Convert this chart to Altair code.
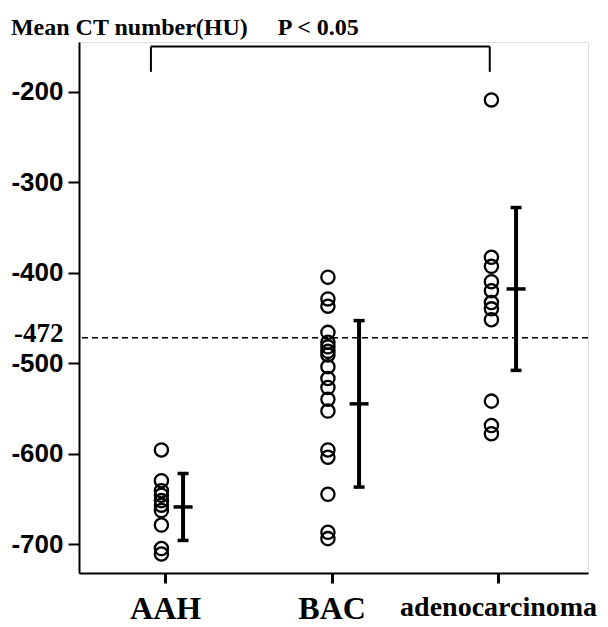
import altair as alt
import pandas as pd

# ---- data ----
groups = ["AAH", "BAC", "adenocarcinoma"]
aah_values = [-596, -630, -641, -646, -652, -657, -663, -679, -705, -711]
bac_values = [-405, -429, -437, -466, -477, -482, -487, -491, -504, -517,
              -527, -540, -553, -596, -604, -645, -687, -694]
adeno_values = [-209, -383, -393, -410, -420, -433, -440, -452, -542, -569, -578]
group_means = [-659, -545, -418]
group_sds = [37, 92, 90]
cutoff_value = -472
y_tick_values = [-700, -600, -500, -472, -400, -300, -200]
title_text = "Mean CT number(HU)"
p_text = "P < 0.05"
bracket_from = 1      # group index where the bracket starts (AAH)
bracket_to = 3        # group index where the bracket ends (adenocarcinoma)
bracket_top = -150
bracket_bottom = -178

# ---- tables ----
rows = []
for i, vals in enumerate([aah_values, bac_values, adeno_values], start=1):
    for v in vals:
        rows.append({"idx": i, "value": v})
points = pd.DataFrame(rows)

err = pd.DataFrame({
    "idx": [1, 2, 3],
    "mean": group_means,
    "sd": group_sds,
})

bracket = pd.DataFrame({"x1": [bracket_from], "x2": [bracket_to],
                        "top": [bracket_top], "bottom": [bracket_bottom]})
cut = pd.DataFrame({"y": [cutoff_value]})

xscale = alt.Scale(domain=[0.483, 3.54], nice=False, zero=False)
yscale = alt.Scale(domain=[-732, -145], nice=False, zero=False)

label_expr = ("datum.value == 1 ? 'AAH' : datum.value == 2 ? 'BAC' : "
              "datum.value == 3 ? 'adenocarcinoma' : ''")

xaxis = alt.Axis(
    values=[1, 2, 3], labelExpr=label_expr, title=None, grid=False,
    domainColor="black", domainWidth=2, tickColor="black", tickWidth=3,
    tickSize=10, labelPadding=10, labelColor="black", labelLimit=0,
    labelFont="Liberation Serif", labelFontWeight="bold",
    labelFontSize={"condition": {"test": "datum.value == 3", "value": 28}, "value": 32},
    labelOverlap=False, labelFlush=False,
)
yaxis = alt.Axis(
    values=y_tick_values, title=None, grid=False,
    labelExpr="'' + datum.value",
    domainColor="black", domainWidth=2,
    tickColor={"condition": {"test": "datum.value == -472", "value": "rgba(0,0,0,0)"},
               "value": "black"},
    tickWidth=2, tickSize=11, labelPadding=5, labelColor="black", labelLimit=0,
    labelFont={"condition": {"test": "datum.value == -472", "value": "Liberation Serif"},
               "value": "Liberation Sans"},
    labelFontWeight="bold",
    labelFontSize={"condition": {"test": "datum.value == -472", "value": 27},
                   "value": 26},
    labelOffset={"condition": {"test": "datum.value == -472", "value": -4},
                 "value": 0},
    labelOverlap=False, labelFlush=False,
)

pts = alt.Chart(points).transform_calculate(
    px="datum.idx - (datum.idx == 3 ? 0.04 : 0.022)"
).mark_point(shape="circle", filled=False, size=175, strokeWidth=2.3,
             color="black", opacity=1).encode(
    x=alt.X("px:Q", scale=xscale, axis=xaxis, title=None),
    y=alt.Y("value:Q", scale=yscale, axis=yaxis, title=None),
)

err_base = alt.Chart(err).transform_calculate(
    bx="datum.idx + (datum.idx == 2 ? 0.165 : 0.108)",
    lo="datum.mean - datum.sd",
    hi="datum.mean + datum.sd",
)

err_line = err_base.mark_rule(strokeWidth=4, color="black").encode(
    x=alt.X("bx:Q", scale=xscale, title=None),
    y=alt.Y("lo:Q", scale=yscale, title=None),
    y2="hi:Q",
)
cap_lo = err_base.mark_tick(orient="horizontal", size=11, thickness=3.5,
                            color="black", opacity=1).encode(
    x=alt.X("bx:Q", scale=xscale, title=None),
    y=alt.Y("lo:Q", scale=yscale, title=None),
)
cap_hi = err_base.mark_tick(orient="horizontal", size=11, thickness=3.5,
                            color="black", opacity=1).encode(
    x=alt.X("bx:Q", scale=xscale, title=None),
    y=alt.Y("hi:Q", scale=yscale, title=None),
)
mean_tick = err_base.mark_tick(orient="horizontal", size=19, thickness=3.5,
                               color="black", opacity=1).encode(
    x=alt.X("bx:Q", scale=xscale, title=None),
    y=alt.Y("mean:Q", scale=yscale, title=None),
)

cut_rule = alt.Chart(cut).mark_rule(strokeWidth=1.5, strokeDash=[6, 4],
                                    color="black").encode(
    y=alt.Y("y:Q", scale=yscale, title=None),
)

br_h = alt.Chart(bracket).transform_calculate(
    bx1="datum.x1 - 0.085", bx2="datum.x2 - 0.05"
).mark_rule(strokeWidth=2, color="black").encode(
    x=alt.X("bx1:Q", scale=xscale, title=None), x2="bx2:Q",
    y=alt.Y("top:Q", scale=yscale, title=None),
)
br_legs = alt.Chart(pd.DataFrame({"x": [bracket_from, bracket_to],
                                  "top": [bracket_top, bracket_top],
                                  "bottom": [bracket_bottom, bracket_bottom]})).transform_calculate(
    bx="datum.x == 1 ? datum.x - 0.085 : datum.x - 0.05"
).mark_rule(strokeWidth=2, color="black").encode(
    x=alt.X("bx:Q", scale=xscale, title=None),
    y=alt.Y("top:Q", scale=yscale, title=None), y2="bottom:Q",
)

nb = "\u00a0"
chart = alt.layer(pts, cut_rule, err_line, cap_lo, cap_hi, mean_tick, br_h, br_legs).properties(
    width=509, height=531,
    padding={"left": 2, "top": 8, "right": 0, "bottom": 0},
    title=alt.TitleParams(title_text + nb * 5 + p_text, anchor="start", frame="bounds",
                          font="Liberation Serif", fontSize=24, fontWeight="bold",
                          color="black", offset=2),
).configure_view(stroke=None).configure(background="white")

chart.save("out.html", embed_options={"renderer": "svg", "actions": False})
